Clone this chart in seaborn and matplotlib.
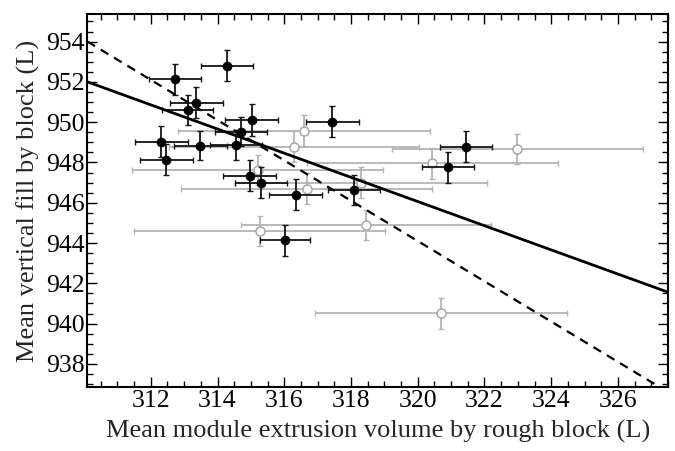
import matplotlib
matplotlib.use("Agg")
import matplotlib.pyplot as plt
import seaborn as sns
import numpy as np
import pandas as pd
from matplotlib.ticker import MultipleLocator

# ---- data ----
filled_x = [314.27, 312.72, 313.36, 313.10, 315.02, 314.71, 312.31, 313.48, 314.54,
            312.47, 314.96, 315.30, 316.34, 316.02, 317.44, 321.45, 320.91, 318.09]
filled_y = [952.79, 952.13, 950.97, 950.61, 950.11, 949.53, 949.03, 948.84, 948.87,
            948.14, 947.35, 947.00, 946.40, 944.14, 950.03, 948.79, 947.76, 946.64]
filled_xerr = [0.78, 0.78, 0.79, 0.75, 0.79, 0.78, 0.79, 0.79, 0.78,
               0.79, 0.79, 0.79, 0.80, 0.76, 0.80, 0.78, 0.78, 0.79]
filled_yerr = [0.77, 0.76, 0.77, 0.75, 0.79, 0.73, 0.76, 0.73, 0.75,
               0.76, 0.76, 0.75, 0.76, 0.77, 0.76, 0.75, 0.76, 0.76]

open_x = [316.29, 315.20, 315.26, 318.45, 316.59, 322.99, 320.44, 318.31, 316.67, 320.69]
open_y = [948.79, 947.63, 944.60, 944.90, 949.58, 948.67, 947.96, 947.00, 946.70, 940.51]
open_xerr = [3.75, 3.77, 3.77, 3.76, 3.78, 3.75, 3.76, 3.78, 3.76, 3.77]
open_yerr = [0.76, 0.76, 0.74, 0.76, 0.77, 0.76, 0.76, 0.77, 0.76, 0.76]

# fitted lines y = a + b*x
solid_a, solid_b = 1138.06, -0.60
dashed_a, dashed_b = 1264.10, -1.00

x_ticks = [312, 314, 316, 318, 320, 322, 324, 326]
y_ticks = [938, 940, 942, 944, 946, 948, 950, 952, 954]
x_lim = (310.1, 327.5)
y_lim = (936.84, 955.37)

sns.set_theme(style="ticks")
plt.rcParams['font.family'] = ['Liberation Serif', 'DejaVu Serif']

fig = plt.figure(figsize=(6.75, 4.51), dpi=100)
ax = fig.add_axes([0.1295, 0.1413, 0.9896 - 0.1295, 0.969 - 0.1413])

df_open = pd.DataFrame({"x": open_x, "y": open_y})
df_fill = pd.DataFrame({"x": filled_x, "y": filled_y})

grey = "#b4b4b4"
ax.errorbar(open_x, open_y, xerr=open_xerr, yerr=open_yerr, fmt="none",
            ecolor=grey, elinewidth=1.3, capsize=2, capthick=1.0, zorder=2)
sns.scatterplot(data=df_open, x="x", y="y", ax=ax, s=42, facecolor="white",
                edgecolor="#a8a8a8", linewidth=1.1, zorder=3, legend=False)

ax.errorbar(filled_x, filled_y, xerr=filled_xerr, yerr=filled_yerr, fmt="none",
            ecolor="#151515", elinewidth=1.3, capsize=2, capthick=1.0, zorder=4)
sns.scatterplot(data=df_fill, x="x", y="y", ax=ax, s=42, color="black",
                edgecolor="black", linewidth=0.5, zorder=5, legend=False)

xx = np.array(x_lim)
sns.lineplot(x=xx, y=solid_a + solid_b * xx, ax=ax, color="black", lw=2.0, zorder=6)
sns.lineplot(x=xx, y=dashed_a + dashed_b * xx, ax=ax, color="black", lw=1.6,
             dashes=False, linestyle=(0, (4, 3)), zorder=6)

ax.set_xlim(*x_lim)
ax.set_ylim(*y_lim)
ax.set_xticks(x_ticks)
ax.set_yticks(y_ticks)
ax.xaxis.set_minor_locator(MultipleLocator(0.5))
ax.yaxis.set_minor_locator(MultipleLocator(0.5))
ax.tick_params(which="both", direction="in", top=True, right=True, colors="black",
               labelsize=18.5, pad=2)
ax.tick_params(which="major", length=7, width=1.0)
ax.tick_params(which="minor", length=4, width=1.0)
for s in ax.spines.values():
    s.set_linewidth(1.5)
    s.set_color("black")

ax.set_xlabel("Mean module extrusion volume by rough block (L)", fontsize=19, labelpad=6)
ax.set_ylabel("Mean vertical fill by block (L)", fontsize=19, labelpad=4)

fig.savefig("out.png", dpi=100)
